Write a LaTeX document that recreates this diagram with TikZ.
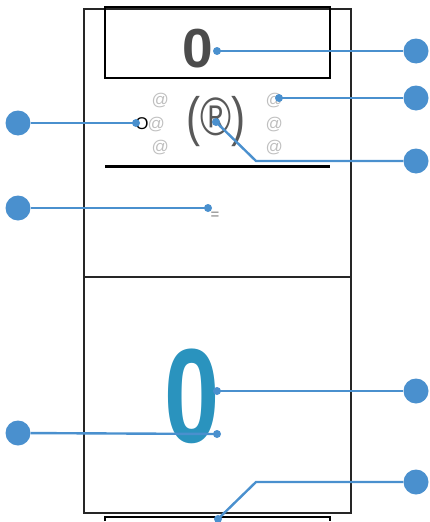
\documentclass[tikz,border=0pt]{standalone}
\usepackage{fontspec}
\setmainfont{Liberation Sans}
\begin{document}
\begin{tikzpicture}[x=1pt,y=-1pt,
  frame/.style={draw=black!85,line width=2.4pt},
  callline/.style={draw=calloutblue,line width=2.4pt},
  dot/.style={circle,fill=calloutblue,inner sep=0pt,minimum size=8pt},
  badge/.style={circle,fill=calloutblue,inner sep=0pt,minimum size=25pt},
  atsign/.style={text=black!25,font=\fontsize{17}{17}\selectfont\itshape,inner sep=0pt}]
\definecolor{calloutblue}{RGB}{74,144,206}
\definecolor{digitblue}{RGB}{42,147,190}
\useasboundingbox (0,0) rectangle (429,522);
% frames
\draw[frame] (84,9) rectangle (351,513);
\draw[frame] (84,277) -- (351,277);
\draw[draw=black,line width=2.4pt] (105,7) rectangle (330,78);
\draw[draw=black,line width=3pt] (105,166) -- (330,166);
\draw[draw=black,line width=1.5pt] (105,521) -- (105,517) -- (330,517) -- (330,521);
% texts
\node[inner sep=0pt,text=black!70] (topzero) at (198,49) {\fontsize{55}{55}\selectfont\bfseries 0};
\node[inner sep=0pt,text=digitblue,xscale=0.74] (bigzero) at (192,396) {\fontsize{134}{134}\selectfont\bfseries 0};
\node[inner sep=0pt,text=black!65,xscale=0.78] (reg) at (216,122) {\fontsize{54}{54}\selectfont(®)};
\node[inner sep=0pt,font=\fontsize{17}{17}\selectfont\rmfamily] (ochar) at (142,124) {O};
\node[inner sep=0pt,text=black!50,font=\fontsize{15}{15}\selectfont] (eq) at (215,216) {=};
\node[atsign] (a1) at (160,101) {@};
\node[atsign] (a2) at (156,125) {@};
\node[atsign] (a3) at (160,148) {@};
\node[atsign] (a4) at (274,101) {@};
\node[atsign] (a5) at (274,125) {@};
\node[atsign] (a6) at (274,148) {@};
% anchor points
\coordinate (p1) at (217,51);
\coordinate (p2) at (279,98);
\coordinate (p3) at (216,122);
\coordinate (p4) at (217,391);
\coordinate (p5) at (218,519);
\coordinate (p6) at (136,123);
\coordinate (p7) at (208,208);
\coordinate (p8) at (217,434);
\coordinate (k3) at (256,161);
\coordinate (k5) at (256,482);
% badges
\node[badge] (r1) at (416,51) {};
\node[badge] (r2) at (416,98) {};
\node[badge] (r3) at (416,161) {};
\node[badge] (r4) at (416,391) {};
\node[badge] (r5) at (416,482) {};
\node[badge] (l1) at (18,123) {};
\node[badge] (l2) at (18,208) {};
\node[badge] (l3) at (18,433) {};
% connectors
\draw[callline] (p1) -- (r1);
\draw[callline] (p2) -- (r2);
\draw[callline] (p3) -- (k3) -- (r3);
\draw[callline] (p4) -- (r4);
\draw[callline] (p5) -- (k5) -- (r5);
\draw[callline] (l1) -- (p6);
\draw[callline] (l2) -- (p7);
\draw[callline] (l3) -- (p8);
\foreach \p in {p1,p2,p3,p4,p5,p6,p7,p8} \node[dot] at (\p) {};
\end{tikzpicture}
\end{document}
